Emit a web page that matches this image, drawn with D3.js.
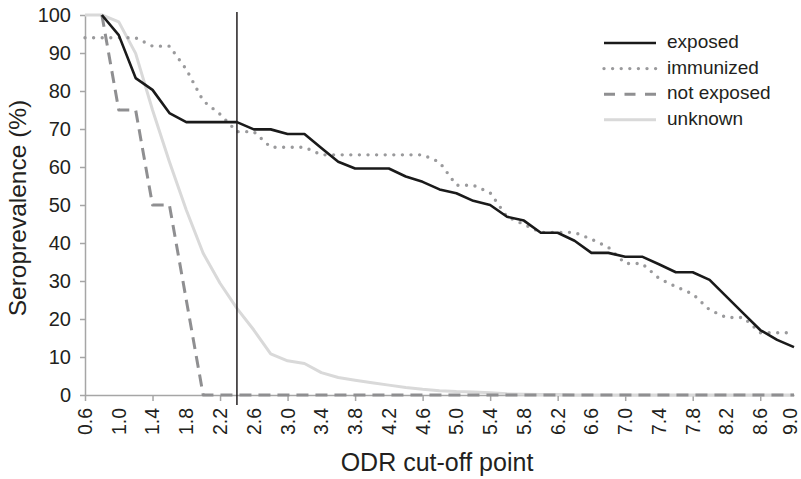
<!DOCTYPE html>
<html>
<head>
<meta charset="utf-8">
<script src="https://cdn.jsdelivr.net/npm/d3@7"></script>
<style>
	body { margin: 0; background: #fff; }
	text { font-family: "Liberation Sans", Arial, sans-serif; fill: #231f20; }
</style>
</head>
<body>
<div id="chart"></div>
<script>
let CUTOFFS = ["0.6", "0.8", "1.0", "1.2", "1.4", "1.6", "1.8", "2.0", "2.2", "2.4",
	"2.6", "2.8", "3.0", "3.2", "3.4", "3.6", "3.8", "4.0", "4.2", "4.4",
	"4.6", "4.8", "5.0", "5.2", "5.4", "5.6", "5.8", "6.0", "6.2", "6.4",
	"6.6", "6.8", "7.0", "7.2", "7.4", "7.6", "7.8", "8.0", "8.2", "8.4",
	"8.6", "8.8", "9.0"];

let EXPOSED = [null, 100, 94.7, 83.4, 80.3, 74.2, 71.8, 71.8, 71.8, 71.8,
	69.9, 69.9, 68.7, 68.7, 65, 61.4, 59.6, 59.6, 59.6, 57.5,
	56.1, 54.1, 53.1, 51.1, 50, 46.9, 45.9, 42.7, 42.7, 40.6,
	37.4, 37.4, 36.4, 36.4, 34.4, 32.3, 32.3, 30.3, 25.9, 21.5,
	17.1, 14.5, 12.6];

let IMMUNIZED = [94, 94, 94, 94, 91.8, 91.8, 85.7, 77.4, 73.9, 69.3,
	69.3, 65.2, 65.2, 65.2, 63.2, 63.2, 63.2, 63.2, 63.2, 63.2,
	63.2, 61.3, 55.2, 55.2, 53.2, 46.9, 44.9, 42.8, 42.8, 42.8,
	41, 38.9, 34.6, 34.6, 30.7, 28.5, 26.6, 22.4, 20.4, 20.4,
	16.4, 16.4, 16.4];

let NOT_EXPOSED = [null, 100, 75, 75, 50, 50, 25, 0, 0, 0,
	0, 0, 0, 0, 0, 0, 0, 0, 0, 0,
	0, 0, 0, 0, 0, 0, 0, 0, 0, 0,
	0, 0, 0, 0, 0, 0, 0, 0, 0, 0,
	0, 0, 0];

let UNKNOWN = [100, 100, 98.2, 89.9, 75, 61.4, 48.7, 37.3, 29.4, 22.8,
	17.1, 10.8, 9, 8.3, 5.9, 4.6, 3.9, 3.2, 2.6, 2,
	1.5, 1.1, 0.9, 0.8, 0.6, 0.3, 0.2, 0.1, 0.1, 0,
	0, 0, 0, 0, 0, 0, 0, 0, 0, 0,
	0, 0, 0];

let Y_TICKS = [0, 10, 20, 30, 40, 50, 60, 70, 80, 90, 100];
let MARKER = "2.4";

let SERIES = [
	{ name: "unknown", values: UNKNOWN, color: "#d9d9d9", width: 3, dash: null, cap: "butt" },
	{ name: "not exposed", values: NOT_EXPOSED, color: "#8f8f91", width: 3, dash: "12 7", cap: "butt" },
	{ name: "immunized", values: IMMUNIZED, color: "#9a9a9c", width: 3.4, dash: "0 8.6", cap: "round" },
	{ name: "exposed", values: EXPOSED, color: "#1a1a1a", width: 2.6, dash: null, cap: "butt" }
];
let LEGEND_ORDER = ["exposed", "immunized", "not exposed", "unknown"];

let width = 801;
let height = 479;

let svg = d3.select("#chart").append("svg").
	attr("width", width).
	attr("height", height);

let x = d3.scalePoint().
	domain(CUTOFFS).
	range([85, 794]);

let y = d3.scaleLinear().
	domain([0, 100]).
	range([395, 15]);

// y axis
let yAxis = svg.append("g").
	attr("transform", "translate(85,0)").
	call(d3.axisLeft(y).tickValues(Y_TICKS).tickSize(5).tickSizeOuter(0).tickPadding(9));
yAxis.select(".domain").attr("stroke", "#a6a6a6").attr("stroke-width", 1.5);
yAxis.selectAll(".tick line").attr("stroke", "#a6a6a6").attr("stroke-width", 1.5);
yAxis.selectAll(".tick text").
	style("font-size", "20px").
	style("font-family", "'Liberation Sans', Arial, sans-serif").
	attr("fill", "#231f20");

// x axis: label every 2nd category, tick mark every 4th
let xAxis = svg.append("g").
	attr("transform", "translate(0,395)").
	call(d3.axisBottom(x).tickValues(CUTOFFS.filter((d, i) => i % 2 === 0)).tickSize(6).tickSizeOuter(0));
xAxis.select(".domain").attr("stroke", "#a6a6a6").attr("stroke-width", 1.5);
xAxis.selectAll(".tick line").
	attr("stroke", "#a6a6a6").
	attr("stroke-width", 1.5).
	attr("opacity", d => CUTOFFS.indexOf(d) % 4 === 0 && d !== "9.0" ? 1 : 0);
xAxis.selectAll(".tick text").
	attr("transform", "rotate(-90)").
	attr("x", -13).
	attr("y", d => d === "9.0" ? -4 : 0). // keep the last label inside the frame
	attr("dy", "0.33em").
	style("text-anchor", "end").
	style("font-size", "19.5px").
	style("font-family", "'Liberation Sans', Arial, sans-serif").
	attr("fill", "#231f20");

// series
let line = d3.line().
	defined(d => d != null).
	x((d, i) => x(CUTOFFS[i])).
	y(d => y(d));

svg.append("g").
	selectAll("path").
	data(SERIES).
	join("path").
	attr("fill", "none").
	attr("stroke", d => d.color).
	attr("stroke-width", d => d.width).
	attr("stroke-dasharray", d => d.dash).
	attr("stroke-linecap", d => d.cap).
	attr("stroke-linejoin", "round").
	attr("d", d => line(d.values));

// cut-off marker
svg.append("line").
	attr("x1", x(MARKER)).
	attr("x2", x(MARKER)).
	attr("y1", 12).
	attr("y2", 405).
	attr("stroke", "#231f20").
	attr("stroke-width", 1.5);

// legend
let legend = svg.append("g").
	selectAll("g").
	data(LEGEND_ORDER.map(n => SERIES.find(s => s.name === n))).
	join("g").
	attr("transform", (d, i) => `translate(604,${43 + i * 25.6})`);

legend.append("line").
	attr("x1", 0).
	attr("x2", 52).
	attr("stroke", d => d.color).
	attr("stroke-width", d => d.width).
	attr("stroke-dasharray", d => d.dash === "12 7" ? "11 9.5" : d.dash).
	attr("stroke-linecap", d => d.cap);

legend.append("text").
	attr("x", 63).
	attr("y", -1).
	attr("dy", "0.32em").
	style("font-size", "19px").
	text(d => d.name);

// axis titles
svg.append("text").
	attr("x", 437).
	attr("y", 471).
	attr("text-anchor", "middle").
	style("font-size", "25px").
	text("ODR cut-off point");

svg.append("text").
	attr("transform", "translate(26,208) rotate(-90)").
	attr("text-anchor", "middle").
	style("font-size", "24.5px").
	text("Seroprevalence (%)");
</script>
</body>
</html>
